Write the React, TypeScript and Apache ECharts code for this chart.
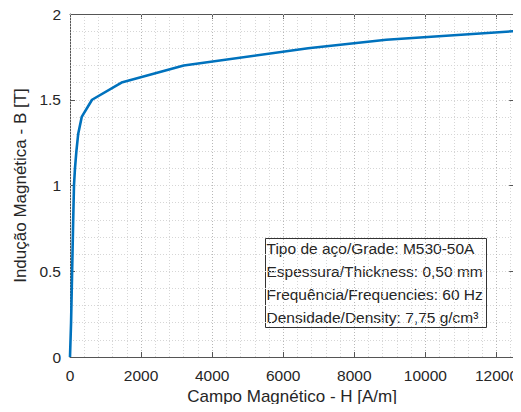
import React, { useEffect, useRef } from "react";
import * as echarts from "echarts";

const hValues = [0, 30, 50, 70, 90, 112, 140, 180, 230, 330, 620, 1450, 3200, 6700, 8900, 12500];
const bValues = [0, 0.2, 0.4, 0.6, 0.8, 1.0, 1.1, 1.2, 1.3, 1.4, 1.5, 1.6, 1.7, 1.8, 1.85, 1.9];
const infoLines = [
  "Tipo de aço/Grade: M530-50A",
  "Espessura/Thickness: 0,50 mm",
  "Frequência/Frequencies: 60 Hz",
  "Densidade/Density: 7,75 g/cm³",
];
const xName = "Campo Magnético - H [A/m]";
const yName = "Indução Magnética - B [T]";

const FONT = "'Liberation Sans', Arial, Helvetica, sans-serif";
const TXT = "#262626";
const AX = "#555555";

export default function App() {
  const ref = useRef<HTMLDivElement>(null);
  useEffect(() => {
    if (!ref.current) return;
    const chart = echarts.init(ref.current, undefined, { renderer: "svg" });
    const data = hValues.map((h, i) => [h, bValues[i]]);
    const majorSplit = { show: true, lineStyle: { color: "#b8b8b8", type: [1, 2] as any, width: 1 } };
    const minorSplit = { show: true, lineStyle: { color: "#d6d6d6", type: [1, 2] as any, width: 1 } };
    chart.setOption({
      animation: false,
      backgroundColor: "#ffffff",
      textStyle: { fontFamily: FONT },
      grid: { left: 70, right: 6, top: 14, bottom: 55, containLabel: false },
      xAxis: [
        {
          type: "value", min: 0, max: 12500, interval: 2000, position: "bottom",
          name: xName, nameLocation: "middle", nameGap: 30,
          nameTextStyle: { color: TXT, fontSize: 17, fontFamily: FONT },
          axisLine: { show: true, lineStyle: { color: AX, width: 1 } },
          axisTick: { show: true, inside: true, length: 5, lineStyle: { color: AX } },
          axisLabel: { color: TXT, fontSize: 15.5, fontFamily: FONT, margin: 10, showMaxLabel: false, formatter: (v: number) => String(v) },
          splitLine: majorSplit, z: 3,
        },
        {
          type: "value", min: 0, max: 12500, interval: 2000, position: "top",
          axisLine: { show: true, onZero: false, lineStyle: { color: AX, width: 1 } },
          axisTick: { show: true, inside: true, length: 5, lineStyle: { color: AX } },
          axisLabel: { show: false }, splitLine: { show: false },
        },
        {
          type: "value", min: 0, max: 12500, interval: 400, position: "bottom",
          axisLine: { show: false }, axisTick: { show: false }, axisLabel: { show: false },
          splitLine: minorSplit,
        },
      ],
      yAxis: [
        {
          type: "value", min: 0, max: 2, interval: 0.5, position: "left",
          name: yName, nameLocation: "middle", nameGap: 40,
          nameTextStyle: { color: TXT, fontSize: 17, fontFamily: FONT },
          axisLine: { show: true, lineStyle: { color: AX, width: 1 } },
          axisTick: { show: true, inside: true, length: 5, lineStyle: { color: AX } },
          axisLabel: { color: TXT, fontSize: 15.5, fontFamily: FONT, margin: 9, formatter: (v: number) => String(v) },
          splitLine: majorSplit,
        },
        {
          type: "value", min: 0, max: 2, interval: 0.5, position: "right",
          axisLine: { show: true, onZero: false, lineStyle: { color: AX, width: 1 } },
          axisTick: { show: true, inside: true, length: 5, lineStyle: { color: AX } },
          axisLabel: { show: false }, splitLine: { show: false },
        },
        {
          type: "value", min: 0, max: 2, interval: 0.1, position: "left",
          axisLine: { show: false }, axisTick: { show: false }, axisLabel: { show: false },
          splitLine: minorSplit,
        },
      ],
      series: [
        {
          type: "line", data, xAxisIndex: 0, yAxisIndex: 0,
          showSymbol: false, symbol: "none",
          lineStyle: { color: "#0072BD", width: 2.6 },
          clip: true, z: 5,
        },
      ],
      graphic: [
        {
          type: "group", left: 265, top: 238, z: 100,
          children: [
            { type: "rect", shape: { x: 0, y: 0, width: 221, height: 89 }, style: { fill: "#ffffff", stroke: "#333333", lineWidth: 1 } },
            ...infoLines.map((t, i) => ({
              type: "text", x: 1, y: 10 + i * 23,
              style: { text: t, fill: TXT, font: `15.5px ${FONT}`, textVerticalAlign: "middle", verticalAlign: "middle" },
            })),
          ],
        },
      ],
    });
    return () => chart.dispose();
  }, []);
  return <div ref={ref} style={{ width: 521, height: 412, margin: -8 }} />;
}
